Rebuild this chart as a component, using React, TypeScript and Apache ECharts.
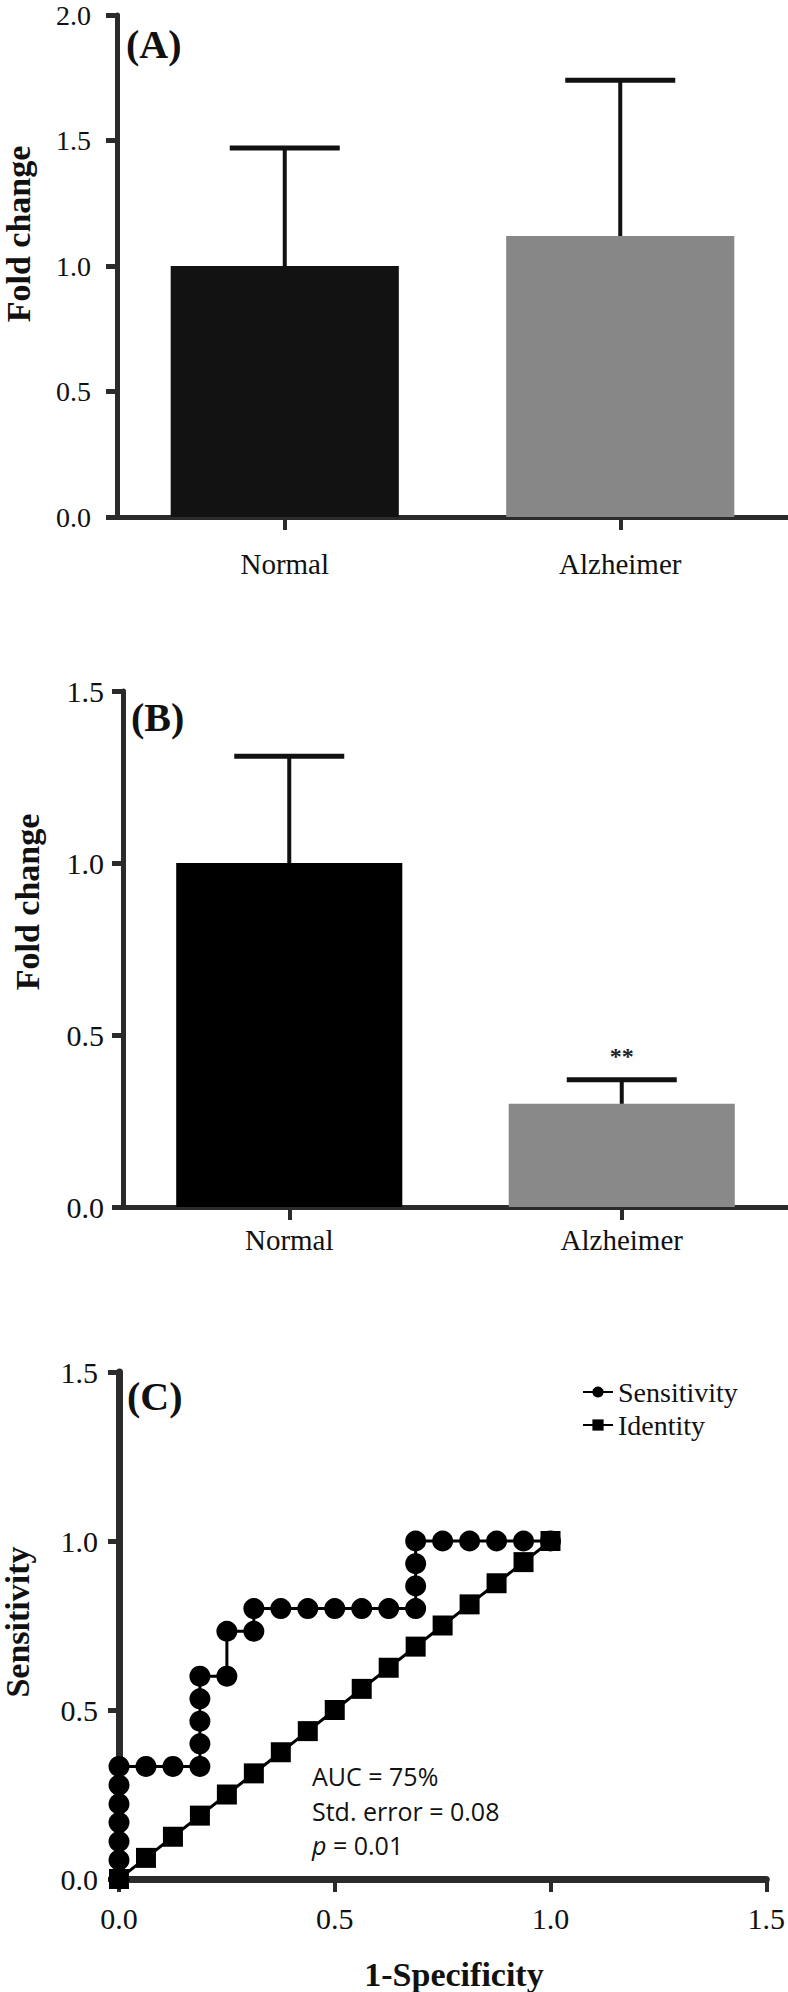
import React, { useEffect, useRef } from "react";
import * as echarts from "echarts";

// ---------- DATA ----------
const categories = ["Normal", "Alzheimer"];

// Panel A
const aMeans = [1.0, 1.12];
const aUpper = [1.47, 1.74];
const aColors = ["#121212", "#878787"];

// Panel B
const bMeans = [1.0, 0.3];
const bUpper = [1.31, 0.37];
const bSignificance = ["", "**"];
const bColors = ["#000000", "#898989"];

// Panel C (ROC)
const rocFpr = [
  0, 0, 0, 0, 0, 0, 0, 0.0625, 0.125, 0.1875, 0.1875, 0.1875, 0.1875, 0.1875,
  0.25, 0.25, 0.3125, 0.3125, 0.375, 0.4375, 0.5, 0.5625, 0.625, 0.6875, 0.6875,
  0.6875, 0.6875, 0.75, 0.8125, 0.875, 0.9375, 1.0,
];
const rocSens = [
  0, 0.056, 0.111, 0.167, 0.222, 0.278, 0.333, 0.333, 0.333, 0.333, 0.4, 0.467,
  0.533, 0.6, 0.6, 0.733, 0.733, 0.8, 0.8, 0.8, 0.8, 0.8, 0.8, 0.8, 0.867, 0.933,
  1, 1, 1, 1, 1, 1,
];
const identityX = [
  0, 0.0625, 0.125, 0.1875, 0.25, 0.3125, 0.375, 0.4375, 0.5, 0.5625, 0.625,
  0.6875, 0.75, 0.8125, 0.875, 0.9375, 1.0,
];
const identityY = [
  0, 0.0625, 0.125, 0.1875, 0.25, 0.3125, 0.375, 0.4375, 0.5, 0.5625, 0.625,
  0.6875, 0.75, 0.8125, 0.875, 0.9375, 1.0,
];
const annotationLines = ["AUC = 75%", "Std. error = 0.08", "{i|p} = 0.01"];

// ---------- STYLE ----------
const SERIF = '"Liberation Serif", "Times New Roman", Times, serif';
const SANS = '"Open Sans", "Noto Sans", sans-serif';
const AXIS = "#2b2b2b";
const INK = "#111111";

function errorBarRender(capWidth: number, labels?: string[]) {
  return (params: any, api: any) => {
    const idx = api.value(0);
    const mean = api.value(1);
    const up = api.value(2);
    const base = api.coord([idx, mean]);
    const top = api.coord([idx, up]);
    const half = capWidth / 2;
    const children: any[] = [
      {
        type: "line",
        shape: { x1: base[0], y1: base[1], x2: top[0], y2: top[1] },
        style: { stroke: INK, lineWidth: 4 },
      },
      {
        type: "line",
        shape: { x1: top[0] - half, y1: top[1], x2: top[0] + half, y2: top[1] },
        style: { stroke: INK, lineWidth: 5 },
      },
    ];
    const lab = labels ? labels[params.dataIndex] : "";
    if (lab) {
      children.push({
        type: "text",
        x: top[0],
        y: top[1] - 24,
        style: {
          text: lab,
          font: `bold 24px ${SERIF}`,
          fill: "#222",
          align: "center",
          verticalAlign: "middle",
          textAlign: "center",
          textVerticalAlign: "middle",
        },
      });
    }
    return { type: "group", children };
  };
}

function titleText(text: string, x: number, y: number, rotate: boolean, size = 34) {
  return {
    type: "text",
    x,
    y,
    rotation: rotate ? Math.PI / 2 : 0,
    style: {
      text,
      font: `bold ${size}px ${SERIF}`,
      fill: INK,
      align: "center",
      verticalAlign: "middle",
      textAlign: "center",
      textVerticalAlign: "middle",
    },
  };
}

function panelLabel(text: string, x: number, y: number) {
  return {
    type: "text",
    x,
    y,
    style: {
      text,
      font: `bold 40px ${SERIF}`,
      fill: INK,
      align: "left",
      verticalAlign: "middle",
      textAlign: "left",
      textVerticalAlign: "middle",
    },
  };
}

function catAxis(gridIndex: number, margin: number) {
  return {
    type: "category",
    gridIndex,
    data: categories,
    axisLine: { show: true, lineStyle: { color: AXIS, width: 5 } },
    axisTick: { show: true, alignWithLabel: true, length: 13, lineStyle: { color: AXIS, width: 4 } },
    axisLabel: { fontSize: 29, fontFamily: SERIF, color: INK, margin },
    splitLine: { show: false },
  };
}

function valAxis(gridIndex: number, max: number, margin: number, fontSize: number, lineWidth = 5) {
  return {
    type: "value",
    gridIndex,
    min: 0,
    max,
    interval: 0.5,
    axisLine: { show: true, onZero: false, lineStyle: { color: AXIS, width: lineWidth } },
    axisTick: { show: true, length: 11, lineStyle: { color: AXIS, width: 5 } },
    axisLabel: {
      fontSize,
      fontFamily: SERIF,
      color: INK,
      margin,
      formatter: (v: number) => v.toFixed(1),
    },
    splitLine: { show: false },
  };
}

export default function App() {
  const ref = useRef<HTMLDivElement>(null);

  useEffect(() => {
    document.body.style.margin = "0";
    if (!ref.current) return;
    const chart = echarts.init(ref.current, undefined, { renderer: "svg" });

    const sensData = rocFpr.map((x, i) => [x, rocSens[i]]);
    const idData = identityX.map((x, i) => [x, identityY[i]]);

    const option: any = {
      animation: false,
      backgroundColor: "#ffffff",
      grid: [
        { left: 117, top: 15, width: 671, height: 502 },
        { left: 123, top: 691, width: 665, height: 516 },
        { left: 119, top: 1372, width: 651, height: 507 },
      ],
      xAxis: [
        catAxis(0, 32),
        catAxis(1, 18),
        {
          type: "value",
          gridIndex: 2,
          min: 0,
          max: 1.5,
          interval: 0.5,
          axisLine: { show: true, onZero: false, lineStyle: { color: AXIS, width: 7 } },
          axisTick: { show: true, length: 13, lineStyle: { color: AXIS, width: 4 } },
          axisLabel: {
            fontSize: 30,
            fontFamily: SERIF,
            color: INK,
            margin: 24,
            formatter: (v: number) => v.toFixed(1),
          },
          splitLine: { show: false },
        },
      ],
      yAxis: [valAxis(0, 2, 26, 28), valAxis(1, 1.5, 19, 30), valAxis(2, 1.5, 21, 30, 7)],
      legend: {
        orient: "vertical",
        left: 582,
        top: 1378,
        padding: 0,
        itemWidth: 30,
        itemHeight: 14,
        itemGap: 5,
        textStyle: { fontSize: 28, lineHeight: 28, fontFamily: SERIF, color: INK },
        data: ["Sensitivity", "Identity"],
      },
      series: [
        {
          type: "bar",
          xAxisIndex: 0,
          yAxisIndex: 0,
          barWidth: "68%",
          data: aMeans.map((v, i) => ({ value: v, itemStyle: { color: aColors[i] } })),
          z: 2,
        },
        {
          type: "custom",
          xAxisIndex: 0,
          yAxisIndex: 0,
          data: aMeans.map((v, i) => [i, v, aUpper[i]]),
          encode: { x: 0, y: [1, 2] },
          renderItem: errorBarRender(110),
          z: 3,
        },
        {
          type: "bar",
          xAxisIndex: 1,
          yAxisIndex: 1,
          barWidth: "68%",
          data: bMeans.map((v, i) => ({ value: v, itemStyle: { color: bColors[i] } })),
          z: 2,
        },
        {
          type: "custom",
          xAxisIndex: 1,
          yAxisIndex: 1,
          data: bMeans.map((v, i) => [i, v, bUpper[i]]),
          encode: { x: 0, y: [1, 2] },
          renderItem: errorBarRender(110, bSignificance),
          z: 3,
        },
        {
          name: "Sensitivity",
          type: "line",
          xAxisIndex: 2,
          yAxisIndex: 2,
          data: sensData,
          symbol: "circle",
          symbolSize: 21,
          showAllSymbol: true,
          clip: false,
          itemStyle: { color: "#000" },
          lineStyle: { color: "#000", width: 3 },
          z: 3,
        },
        {
          name: "Identity",
          type: "line",
          xAxisIndex: 2,
          yAxisIndex: 2,
          data: idData,
          symbol: "rect",
          symbolSize: 20,
          showAllSymbol: true,
          clip: false,
          itemStyle: { color: "#000" },
          lineStyle: { color: "#000", width: 3 },
          z: 4,
        },
      ],
      graphic: [
        panelLabel("(A)", 126, 44),
        panelLabel("(B)", 131, 717),
        panelLabel("(C)", 127, 1396),
        titleText("Fold change", 18, 234, true),
        titleText("Fold change", 27, 902, true),
        titleText("Sensitivity", 17, 1622, true),
        titleText("1-Specificity", 454, 1974, false),
        ...annotationLines.map((t, i) => ({
          type: "text",
          x: 312,
          y: 1776 + i * 34.5,
          style: {
            text: t,
            font: `25px ${SANS}`,
            fill: INK,
            align: "left",
            verticalAlign: "middle",
            textAlign: "left",
            textVerticalAlign: "middle",
            rich: {
              i: { fontStyle: "italic", fontSize: 25, fontFamily: SANS, fill: INK, color: INK },
            },
          },
        })),
      ],
    };

    chart.setOption(option);
    return () => chart.dispose();
  }, []);

  return (
    <div
      ref={ref}
      style={{ position: "absolute", left: 0, top: 0, width: 788, height: 1992, background: "#fff" }}
    />
  );
}
